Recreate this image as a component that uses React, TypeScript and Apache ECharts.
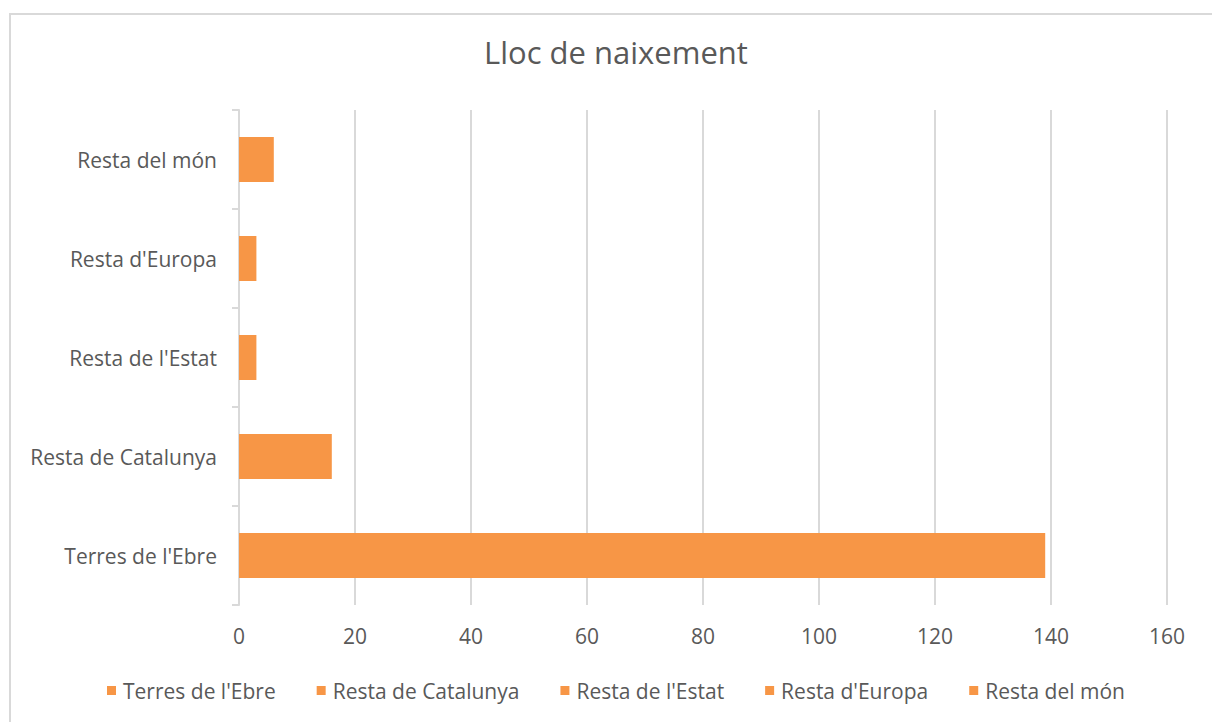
import React, { useEffect, useRef } from "react";
import * as echarts from "echarts";

const categories = ["Terres de l'Ebre", "Resta de Catalunya", "Resta de l'Estat", "Resta d'Europa", "Resta del món"];
const values = [139, 16, 3, 3, 6];
const xTicks = { min: 0, max: 160, interval: 20 };

const FONT = "'Open Sans', 'Noto Sans', sans-serif";
const TXT = "#595959";
const ORANGE = "#F79646";
const GRID = "#D9D9D9";

export default function App() {
  const ref = useRef<HTMLDivElement>(null);
  useEffect(() => {
    document.body.style.margin = "0";
    const chart = echarts.init(ref.current!, null, { renderer: "svg" });
    const series = categories.map((name, i) => ({
      name,
      type: "bar",
      stack: "total",
      barWidth: 45,
      itemStyle: { color: ORANGE },
      data: categories.map((_, j) => (j === i ? values[i] : "-")),
    }));
    chart.setOption({
      animation: false,
      backgroundColor: "#fff",
      textStyle: { fontFamily: FONT },
      graphic: [
        {
          type: "rect",
          shape: { x: 10, y: 14, width: 1300, height: 800 },
          style: { fill: "none", stroke: GRID, lineWidth: 2 },
          silent: true,
        },
      ],
      title: {
        text: "Lloc de naixement",
        left: 479,
        top: 31,
        itemGap: 0,
        textStyle: { fontFamily: FONT, fontSize: 31, fontWeight: "normal", color: TXT },
      },
      legend: {
        data: categories,
        top: 675,
        left: 102,
        icon: "rect",
        itemWidth: 9,
        itemHeight: 9,
        itemGap: 41,
        textStyle: { fontFamily: FONT, fontSize: 21, color: TXT, padding: [0, 0, 0, 2] },
      },
      grid: { left: 239, right: 45, top: 110, bottom: 117, containLabel: false },
      xAxis: {
        type: "value",
        min: xTicks.min,
        max: xTicks.max,
        interval: xTicks.interval,
        axisLine: { show: false },
        axisTick: { show: false },
        splitLine: { show: true, lineStyle: { color: GRID, width: 2 } },
        axisLabel: { fontFamily: FONT, fontSize: 21, color: TXT, margin: 20 },
      },
      yAxis: {
        type: "category",
        data: categories,
        axisLine: { show: true, lineStyle: { color: GRID, width: 2 } },
        axisTick: { show: true, length: 7, lineStyle: { color: GRID, width: 2 } },
        axisLabel: { fontFamily: FONT, fontSize: 21, color: TXT, margin: 22 },
      },
      series,
    });
    return () => chart.dispose();
  }, []);
  return <div ref={ref} style={{ width: 1212, height: 722 }} />;
}
